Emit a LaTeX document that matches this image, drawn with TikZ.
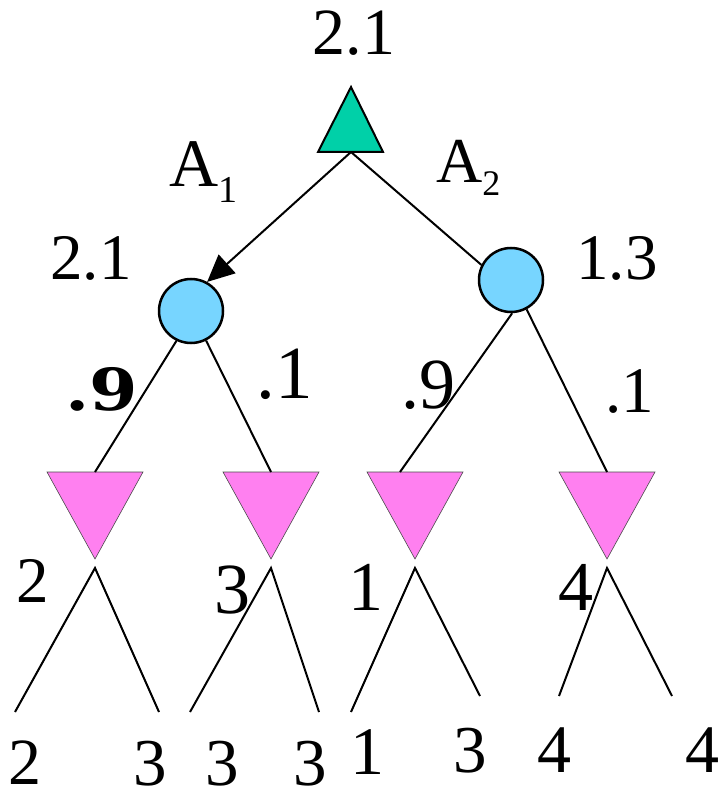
\documentclass[tikz,border=0pt]{standalone}
\usepackage{fontspec}
\setmainfont{Liberation Serif}
\newfontfamily\ninefont{DejaVu Serif}
\usetikzlibrary{arrows.meta}
\definecolor{topgreen}{RGB}{0,208,168}
\definecolor{chanceblue}{RGB}{119,213,255}
\definecolor{minpink}{RGB}{255,128,240}
\begin{document}
\begin{tikzpicture}[x=1pt,y=-1pt,
  edge/.style={line width=2pt},
  chance/.style={circle,draw=black,line width=2.5pt,fill=chanceblue,minimum size=64pt,inner sep=0pt},
  maxnode/.style={fill=topgreen,draw=black,line width=2pt,line join=miter},
  minnode/.style={fill=minpink,draw=black!70,line width=0.6pt,line join=miter},
  lbl/.style={inner sep=0pt,anchor=base},
  sz/.style={font=\fontsize{#1}{#1}\selectfont}]
\useasboundingbox (0,0) rectangle (719,791);

% max node (top triangle)
\coordinate (mA) at (351,87);
\coordinate (mL) at (318,152);
\coordinate (mR) at (383,152);
\coordinate (mB) at (351,152);
\draw[maxnode] (mA) -- (mL) -- (mR) -- cycle;

% chance nodes
\node[chance] (c1) at (191,311) {};
\node[chance] (c2) at (511,280) {};

\draw[edge,-{Triangle[length=27pt,width=25pt]}] (mB) -- (c1.61);
\draw[edge] (mB) -- (c2.153);

% min nodes (pink triangles)
\foreach \i/\cx in {1/95,2/271,3/415,4/607}{
  \coordinate (t\i L) at (\cx-48,472);
  \coordinate (t\i R) at (\cx+48,472);
  \coordinate (t\i T) at (\cx,472);
  \coordinate (t\i P) at (\cx,559);
  \coordinate (l\i) at (\cx,568);
  \draw[minnode] (t\i L) -- (t\i R) -- (t\i P) -- cycle;
}
\coordinate (t3in) at (400,472);

\draw[edge] (c1.244) -- (t1T);
\draw[edge] (c1.297) -- (t2T);
\draw[edge] (c2.272) -- (t3in);
\draw[edge] (c2.298) -- (t4T);

% leaf lines
\coordinate (l1a) at (15,712);  \coordinate (l1b) at (159,712);
\coordinate (l2a) at (190,712); \coordinate (l2b) at (319,712);
\coordinate (l3a) at (351,712); \coordinate (l3b) at (480,696);
\coordinate (l4a) at (559,696); \coordinate (l4b) at (672,696);
\foreach \i in {1,2,3,4}{
  \draw[edge] (l\i a) -- (l\i) -- (l\i b);
}

% labels
\node[lbl,sz=66] (v0) at (354,55) {2.1};
\node[lbl,sz=68,anchor=base west] (a1) at (169,187) {A\raisebox{-16pt}{\fontsize{38}{38}\selectfont 1}};
\node[lbl,sz=64,anchor=base west] (a2) at (436,183) {A\raisebox{-13pt}{\fontsize{36}{36}\selectfont 2}};
\node[lbl,sz=65] (v1) at (91,279) {2.1};
\node[lbl,sz=65] (v2) at (617,279) {1.3};
\node[lbl,inner sep=0pt] (p1) at (102,410) {\ninefont\bfseries\fontsize{58}{58}\selectfont\scalebox{1.2}[1]{.9}};
\node[lbl,sz=75] (p2) at (285,398) {.1};
\node[lbl,sz=72] (p3) at (428,408) {.9};
\node[lbl,sz=65] (p4) at (630,412) {.1};

\node[lbl,sz=65] (m1) at (33,602) {2};
\node[lbl,sz=72] (m2) at (232,613) {3};
\node[lbl,sz=70] (m3) at (366,610) {1};
\node[lbl,sz=70] (m4) at (576,610) {4};

\node[lbl,sz=66] (f1) at (25,784) {2};
\node[lbl,sz=67] (f2) at (150,785) {3};
\node[lbl,sz=67] (f3) at (222,785) {3};
\node[lbl,sz=67] (f4) at (310,785) {3};
\node[lbl,sz=68] (f5) at (367,774) {1};
\node[lbl,sz=67] (f6) at (470,772) {3};
\node[lbl,sz=68] (f7) at (554,772) {4};
\node[lbl,sz=68] (f8) at (702,772) {4};
\end{tikzpicture}
\end{document}
